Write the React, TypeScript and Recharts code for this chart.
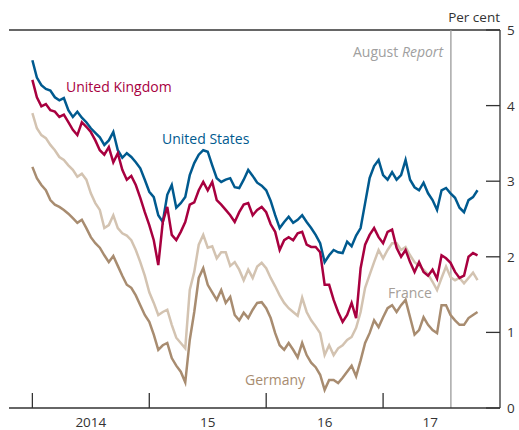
import React from 'react'
import { LineChart, Line, XAxis, YAxis, ReferenceLine } from 'recharts'

// long-term government bond yields, fortnightly readings from Jan 2014
const unitedStates = [
  4.60, 4.37, 4.27, 4.22, 4.20, 4.11, 4.07, 4.10, 3.94, 3.85,
  3.92, 3.84, 3.78, 3.70, 3.64, 3.58, 3.48, 3.54, 3.65, 3.41,
  3.31, 3.37, 3.32, 3.25, 3.17, 3.02, 2.86, 2.79, 2.55, 2.46,
  2.82, 2.95, 2.65, 2.71, 2.79, 3.08, 3.24, 3.35, 3.41, 3.39,
  3.21, 3.04, 2.99, 3.02, 3.04, 2.92, 2.91, 3.02, 3.15, 3.07,
  2.98, 2.94, 2.88, 2.74, 2.55, 2.38, 2.46, 2.53, 2.45, 2.49,
  2.55, 2.46, 2.38, 2.29, 2.18, 1.93, 2.02, 2.09, 2.06, 2.05,
  2.20, 2.14, 2.28, 2.38, 2.71, 3.04, 3.20, 3.28, 3.08, 3.02,
  3.12, 3.02, 3.08, 3.28, 3.02, 2.92, 2.88, 2.98, 2.84, 2.75,
  2.62, 2.88, 2.91, 2.84, 2.78, 2.65, 2.59, 2.75, 2.79, 2.88,
]
const unitedKingdom = [
  4.34, 4.11, 3.99, 4.02, 3.94, 3.92, 3.85, 3.88, 3.78, 3.68,
  3.61, 3.78, 3.72, 3.65, 3.54, 3.41, 3.35, 3.45, 3.25, 3.37,
  3.15, 3.02, 3.07, 2.95, 2.78, 2.59, 2.42, 2.22, 1.89, 2.46,
  2.66, 2.29, 2.22, 2.33, 2.46, 2.69, 2.72, 2.88, 2.99, 2.88,
  2.99, 2.75, 2.69, 2.62, 2.55, 2.46, 2.59, 2.69, 2.71, 2.55,
  2.62, 2.66, 2.59, 2.43, 2.33, 2.09, 2.22, 2.26, 2.22, 2.31,
  2.33, 2.16, 2.13, 2.13, 2.06, 1.63, 1.63, 1.43, 1.27, 1.14,
  1.23, 1.39, 1.19, 1.85, 2.16, 2.29, 2.38, 2.26, 2.18, 2.33,
  2.36, 2.12, 2.00, 2.09, 1.93, 1.80, 1.93, 1.80, 1.75, 1.83,
  1.71, 2.02, 1.98, 1.92, 1.80, 1.72, 1.75, 2.00, 2.05, 2.02,
]
const france = [
  3.90, 3.70, 3.61, 3.57, 3.48, 3.41, 3.32, 3.28, 3.21, 3.15,
  3.06, 3.10, 3.02, 2.84, 2.71, 2.62, 2.38, 2.42, 2.55, 2.38,
  2.31, 2.28, 2.22, 2.09, 1.93, 1.75, 1.53, 1.39, 1.23, 1.27,
  1.30, 1.10, 0.93, 0.86, 0.79, 1.56, 1.80, 2.16, 2.29, 2.12,
  2.14, 1.98, 2.06, 2.06, 1.88, 1.93, 1.83, 1.69, 1.83, 1.72,
  1.87, 1.92, 1.85, 1.72, 1.61, 1.49, 1.39, 1.32, 1.27, 1.22,
  1.46, 1.27, 1.16, 1.08, 0.99, 0.70, 0.83, 0.70, 0.79, 0.83,
  0.90, 0.94, 1.06, 1.27, 1.59, 1.76, 1.93, 2.09, 1.98, 2.09,
  2.18, 2.18, 2.09, 2.13, 2.02, 1.93, 1.88, 1.83, 1.77, 1.67,
  1.56, 1.72, 1.87, 1.73, 1.69, 1.72, 1.65, 1.72, 1.79, 1.69,
]
const germany = [
  3.19, 3.04, 2.95, 2.88, 2.75, 2.69, 2.66, 2.62, 2.57, 2.51,
  2.45, 2.49, 2.38, 2.26, 2.18, 2.12, 2.02, 1.93, 2.01, 1.88,
  1.75, 1.63, 1.59, 1.49, 1.36, 1.23, 1.14, 0.97, 0.77, 0.83,
  0.86, 0.66, 0.56, 0.48, 0.34, 0.90, 1.27, 1.72, 1.85, 1.63,
  1.53, 1.43, 1.56, 1.39, 1.47, 1.23, 1.16, 1.26, 1.19, 1.30,
  1.39, 1.40, 1.32, 1.19, 0.99, 0.83, 0.77, 0.86, 0.77, 0.67,
  0.86, 0.70, 0.60, 0.54, 0.44, 0.24, 0.37, 0.37, 0.33, 0.40,
  0.48, 0.56, 0.42, 0.63, 0.86, 0.99, 1.16, 1.07, 1.20, 1.32,
  1.36, 1.27, 1.36, 1.43, 1.20, 0.97, 1.03, 1.20, 1.10, 1.03,
  0.99, 1.36, 1.36, 1.23, 1.16, 1.10, 1.10, 1.19, 1.23, 1.27,
]

const startYear = 2014
const readingsPerYear = 26
const dates = unitedStates.map((_, i) => startYear + i / readingsPerYear)

const yearTicks = [2014, 2015, 2016, 2017]
const yearLabels = ['2014', '15', '16', '17']
const percentTicks = [0, 1, 2, 3, 4, 5]
const reportDate = 2017.58

const data = dates.map((t, i) => ({
  t,
  us: unitedStates[i],
  uk: unitedKingdom[i],
  fr: france[i],
  de: germany[i],
}))

const W = 519
const H = 430
const M = { top: 30, right: 0, bottom: 0, left: 9 }
const RIGHT_W = 19
const BOTTOM_H = 22
const X_MIN = 2013.8
const X_MAX = 2018
const PLOT_W = W - M.left - M.right - RIGHT_W
const PX_PER_YEAR = PLOT_W / (X_MAX - X_MIN)

const FONT = '"Open Sans", "Noto Sans", sans-serif'
const INK = '#333'

function YearTick(props: any) {
  const { x, y, payload, index } = props
  const next = yearTicks[index + 1] ?? dates[dates.length - 1]
  const lx = x + ((next - payload.value) / 2) * PX_PER_YEAR
  return (
    <g>
      <line x1={x} y1={y} x2={x} y2={y - 15} stroke={INK} strokeWidth={1.3} />
      <text x={lx} y={y + 19} textAnchor="middle" fontSize={13.5} fill={INK} fontFamily={FONT}>
        {yearLabels[index]}
      </text>
    </g>
  )
}

function RightTick(props: any) {
  const { x, y, payload } = props
  return (
    <g>
      <line x1={x} y1={y} x2={x - 14} y2={y} stroke={INK} strokeWidth={1.3} />
      <text x={x + 7} y={y + 5} fontSize={13.5} fill={INK} fontFamily={FONT}>
        {payload.value}
      </text>
    </g>
  )
}

function LeftTick(props: any) {
  const { x, y } = props
  return <line x1={x} y1={y} x2={x + 15} y2={y} stroke={INK} strokeWidth={1.3} />
}

export default function App() {
  return (
    <div style={{ position: 'absolute', left: 0, top: 0, width: W, height: H, background: '#fff' }}>
      <LineChart width={W} height={H} data={data} margin={M}>
        <XAxis
          dataKey="t"
          type="number"
          domain={[X_MIN, X_MAX]}
          ticks={yearTicks}
          allowDataOverflow
          height={BOTTOM_H}
          tickSize={0}
          tickMargin={0}
          tickLine={false}
          axisLine={{ stroke: INK, strokeWidth: 1.3 }}
          tick={YearTick}
          interval={0}
        />
        <YAxis
          yAxisId="right"
          orientation="right"
          domain={[0, 5]}
          ticks={percentTicks}
          width={RIGHT_W}
          tickSize={0}
          tickMargin={0}
          tickLine={false}
          axisLine={{ stroke: INK, strokeWidth: 1.3 }}
          tick={RightTick}
          interval={0}
        />
        <YAxis
          yAxisId="left"
          orientation="left"
          domain={[0, 5]}
          ticks={percentTicks}
          width={0}
          tickSize={0}
          tickMargin={0}
          tickLine={false}
          axisLine={{ stroke: INK, strokeWidth: 1.3 }}
          tick={LeftTick}
          interval={0}
        />
        <ReferenceLine yAxisId="right" y={5} stroke={INK} strokeWidth={1.3} />
        <ReferenceLine yAxisId="right" x={reportDate} stroke="#9a9a9a" strokeWidth={1.3} />
        <Line yAxisId="right" dataKey="de" stroke="#a88c70" strokeWidth={2.5} dot={false} isAnimationActive={false} />
        <Line yAxisId="right" dataKey="fr" stroke="#d3c3b1" strokeWidth={2.5} dot={false} isAnimationActive={false} />
        <Line yAxisId="right" dataKey="us" stroke="#005a8f" strokeWidth={2.5} dot={false} isAnimationActive={false} />
        <Line yAxisId="right" dataKey="uk" stroke="#a8003f" strokeWidth={2.5} dot={false} isAnimationActive={false} />
      </LineChart>
      <svg width={W} height={H} style={{ position: 'absolute', left: 0, top: 0, pointerEvents: 'none' }} fontFamily={FONT} fontSize={14}>
        <text x={500} y={22} textAnchor="end" fill={INK} fontSize={13.5}>Per cent</text>
        <text x={443} y={57} textAnchor="end" fill="#a0a0a0">
          August <tspan fontStyle="italic">Report</tspan>
        </text>
        <text x={66} y={92} fill="#a8003f">United Kingdom</text>
        <text x={162} y={144} fill="#005a8f">United States</text>
        <text x={388} y={298} fill="#a59e98">France</text>
        <text x={245} y={385} fill="#a88c70">Germany</text>
      </svg>
    </div>
  )
}
